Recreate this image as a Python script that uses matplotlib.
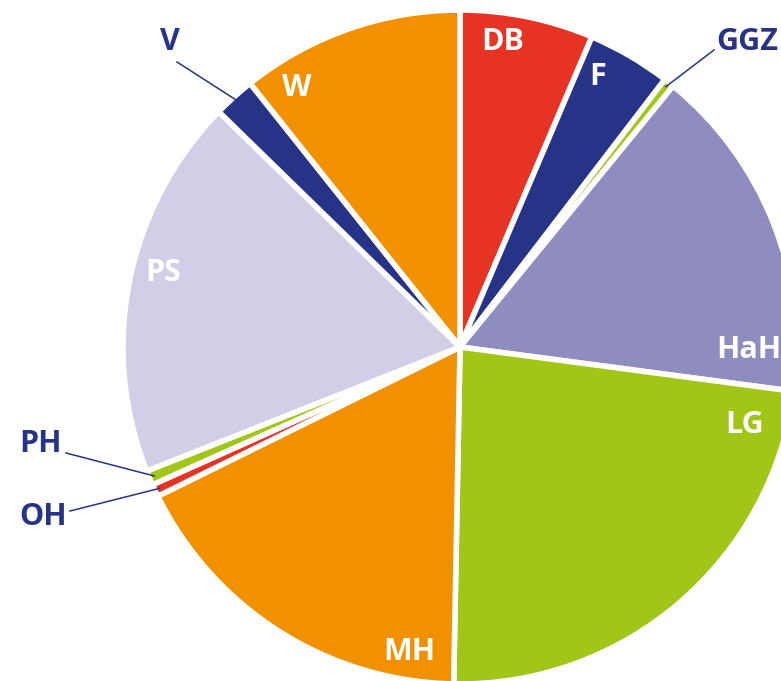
import matplotlib
matplotlib.use('Agg')
import matplotlib.pyplot as plt
import numpy as np

# Shares per category (percent)
categories = ['DB', 'F', 'GGZ', 'HaH', 'LG', 'MH', 'OH', 'PH', 'PS', 'V', 'W']
shares = [6.4, 4.0, 0.5, 16.2, 23.2, 17.4, 0.6, 0.7, 18.3, 2.0, 10.7]

red = '#E63323'
navy = '#263386'
green = '#A2C617'
purple = '#8F8CC0'
lilac = '#D1CFE7'
orange = '#F29100'
colors = [red, navy, green, purple, green, orange, red, green, lilac, navy, orange]

plt.rcParams['font.family'] = ['Open Sans', 'DejaVu Sans']

fig = plt.figure(figsize=(7.81, 6.81), dpi=100)
ax = fig.add_axes([0, 0, 1, 1])

H = 681
cx, cy, R = 460, H - 347, 337
wedges, _ = ax.pie(shares, colors=colors, startangle=90, counterclock=False,
                   center=(cx, cy), radius=R,
                   wedgeprops=dict(edgecolor='white', linewidth=4))
ax.set_xlim(0, 781)
ax.set_ylim(0, H)
ax.set_aspect('equal')
ax.axis('off')

# labels inside the wedges (white), pixel positions in the image
inside = {'DB': (503, 42), 'F': (598, 77), 'HaH': (749, 350), 'LG': (745, 425),
          'MH': (409, 652), 'PS': (163, 273), 'W': (297, 88)}
for name, (x, y) in inside.items():
    ax.text(x, H - y, name, color='white', fontsize=22, fontweight='bold',
            ha='center', va='center')

# labels outside with leader lines to the small wedges
outside = {'V': ((170, 42), (177, 62)), 'GGZ': ((747, 42), (714, 50)),
           'PH': ((40, 444), (66, 453)), 'OH': ((43, 517), (70, 511))}
for name, ((tx, ty), (lx, ly)) in outside.items():
    w = wedges[categories.index(name)]
    mid = np.deg2rad((w.theta1 + w.theta2) / 2)
    px = cx + 0.985 * R * np.cos(mid)
    py = cy + 0.985 * R * np.sin(mid)
    ax.plot([lx, px], [H - ly, py], color=navy, lw=1.1)
    ax.text(tx, H - ty, name, color=navy, fontsize=22, fontweight='bold',
            ha='center', va='center')

fig.savefig('out.png', dpi=100)
